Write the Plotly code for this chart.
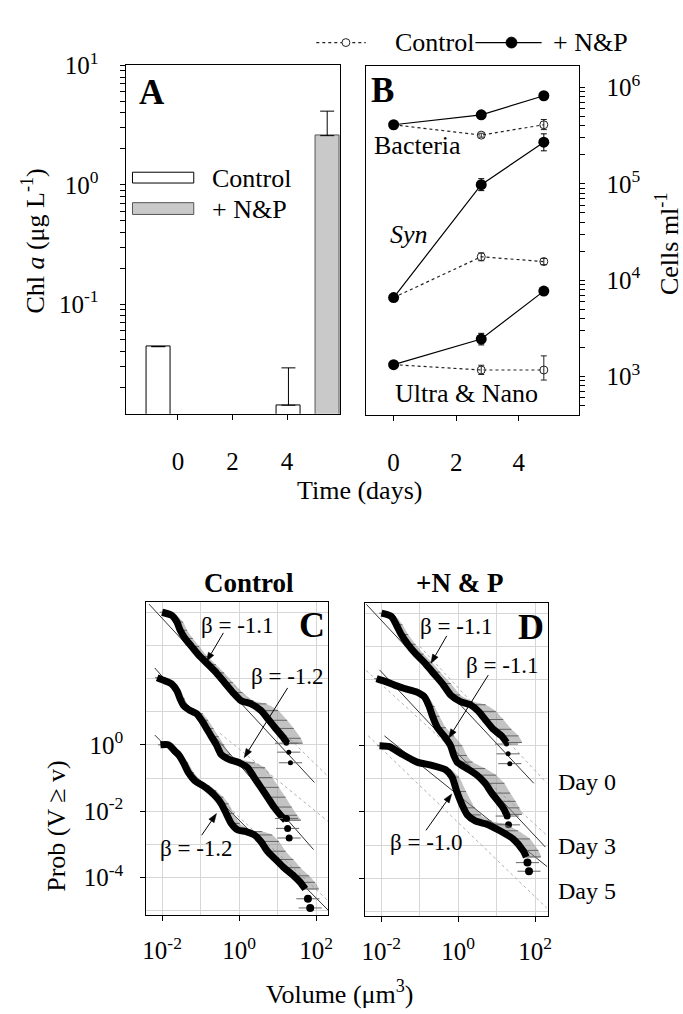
import math
import plotly.graph_objects as go

W, H = 683, 1014
SERIF = "Liberation Serif, Times New Roman, serif"


def fx(p):
    return p / W


def fy(p):
    return 1 - p / H


# ---------------- Panel A: chlorophyll a bars ----------------
chl_ctrl_pos = [-0.72, 4.05]
chl_ctrl = [0.044, 0.0142]
chl_ctrl_err = [0.0, 0.015]
chl_np_pos = [5.47]
chl_np = [2.58]
chl_np_err = [1.56]

# ---------------- Panel B: cell abundances ----------------
days_b = [0, 2.8, 4.8]
bact_np = [4.1e5, 5.2e5, 8.2e5]
bact_np_up = [0, 2.0e4, 6.0e4]
bact_np_dn = [0, 2.0e4, 4.0e4]
bact_ctrl = [4.1e5, 3.2e5, 4.1e5]
bact_ctrl_up = [0, 1.5e4, 5.5e4]
bact_ctrl_dn = [0, 1.5e4, 4.5e4]
syn_np = [6.6e3, 9.8e4, 2.7e5]
syn_np_up = [0, 1.5e4, 6.0e4]
syn_np_dn = [0, 1.3e4, 5.0e4]
syn_ctrl = [6.6e3, 1.75e4, 1.56e4]
syn_ctrl_up = [0, 1.7e3, 1.2e3]
syn_ctrl_dn = [0, 1.6e3, 1.1e3]
un_np = [1.33e3, 2.45e3, 7.7e3]
un_np_up = [0, 3.6e2, 3.0e2]
un_np_dn = [0, 3.2e2, 3.0e2]
un_ctrl = [1.33e3, 1.17e3, 1.17e3]
un_ctrl_up = [0, 1.4e2, 4.7e2]
un_ctrl_dn = [0, 1.2e2, 2.5e2]

# ---------------- Panels C & D: size spectra (log10 volume, log10 prob) ----------------
# Control
c0_lv = [-2.0, -1.744, -1.615, -1.531, -1.403, -1.231, -1.018, -0.803, -0.590, -0.377,
         -0.162, 0.051, 0.308, 0.564, 0.777, 0.949, 1.162, 1.249]
c0_lp = [4.0, 3.902, 3.704, 3.457, 3.209, 2.963, 2.667, 2.421, 2.172, 1.876,
         1.579, 1.333, 1.236, 1.037, 0.741, 0.495, 0.198, 0.050]
c0_hi = [0.05, 0.12, 0.16, 0.18, 0.20, 0.20, 0.20, 0.20, 0.20, 0.22,
         0.25, 0.32, 0.40, 0.45, 0.47, 0.47, 0.44, 0.40]
c0_tail_lv = [1.23, 1.29, 1.333]
c0_tail_lp = [0.05, -0.22, -0.54]

c3_lv = [-2.128, -1.915, -1.744, -1.615, -1.531, -1.444, -1.274, -1.103, -0.974, -0.846, -0.718,
         -0.590, -0.462, -0.249, 0.008, 0.223, 0.392, 0.564, 0.736, 0.905, 1.077, 1.205]
c3_lp = [2.024, 1.926, 1.828, 1.630, 1.384, 1.185, 1.037, 0.939, 0.741, 0.495, 0.246,
         0.0, -0.296, -0.444, -0.542, -0.690, -0.987, -1.283, -1.579, -1.876, -2.124, -2.272]
c3_hi = [0.04, 0.06, 0.08, 0.10, 0.12, 0.14, 0.15, 0.16, 0.17, 0.18, 0.19,
         0.20, 0.22, 0.30, 0.40, 0.45, 0.47, 0.47, 0.47, 0.46, 0.43, 0.40]
c3_tail_lv = [1.23, 1.26, 1.30]
c3_tail_lp = [-2.22, -2.52, -2.81]

c5_lv = [-2.044, -1.828, -1.659, -1.572, -1.444, -1.315, -1.146, -0.931, -0.762, -0.590, -0.462, -0.333,
         -0.205, -0.033, 0.179, 0.392, 0.564, 0.736, 0.949, 1.162, 1.418, 1.590, 1.718]
c5_lp = [0.0, 0.0, -0.199, -0.296, -0.542, -0.839, -1.087, -1.236, -1.384, -1.579, -1.778, -2.074,
         -2.370, -2.569, -2.616, -2.717, -2.913, -3.209, -3.458, -3.704, -3.950, -4.148, -4.347]
c5_hi = [0.04, 0.05, 0.08, 0.10, 0.12, 0.14, 0.15, 0.16, 0.17, 0.18, 0.19, 0.20,
         0.22, 0.32, 0.42, 0.47, 0.47, 0.47, 0.46, 0.43, 0.40, 0.38, 0.35]
c5_tail_lv = [1.787, 1.846]
c5_tail_lp = [-4.643, -4.92]

# +N & P
d0_lv = [-1.992, -1.736, -1.608, -1.479, -1.308, -1.095, -0.882, -0.667, -0.410,
         -0.197, 0.059, 0.315, 0.528, 0.700, 0.913, 1.128, 1.256]
d0_lp = [4.0, 3.902, 3.653, 3.357, 3.061, 2.764, 2.519, 2.222, 1.876,
         1.532, 1.333, 1.236, 1.037, 0.791, 0.495, 0.296, 0.098]
d0_hi = [0.05, 0.12, 0.16, 0.18, 0.20, 0.20, 0.20, 0.20, 0.22,
         0.25, 0.32, 0.40, 0.45, 0.47, 0.47, 0.44, 0.40]
d0_tail_lv = [1.256, 1.297, 1.341]
d0_tail_lp = [0.05, -0.246, -0.542]

d3_lv = [-2.12, -1.864, -1.651, -1.395, -1.095, -0.882, -0.754, -0.667, -0.538, -0.369,
         -0.197, -0.113, -0.026, 0.231, 0.487, 0.700, 0.872, 1.041, 1.169, 1.256]
d3_lp = [2.024, 1.926, 1.828, 1.727, 1.630, 1.481, 1.185, 0.889, 0.542, 0.296,
         0.0, -0.296, -0.495, -0.690, -0.889, -1.135, -1.431, -1.680, -1.876, -2.074]
d3_hi = [0.04, 0.05, 0.06, 0.07, 0.08, 0.10, 0.14, 0.18, 0.22, 0.26,
         0.30, 0.34, 0.40, 0.47, 0.50, 0.50, 0.48, 0.45, 0.42, 0.40]
d3_tail_lv = [1.272, 1.308]
d3_tail_lp = [-2.124, -2.39]

d5_lv = [-2.044, -1.787, -1.441, -1.069, -0.685, -0.326, -0.159, -0.036, 0.136, 0.238,
         0.444, 0.744, 1.085, 1.426, 1.682, 1.769]
d5_lp = [0.0, -0.030, -0.267, -0.495, -0.593, -0.726, -0.948, -1.384, -1.876, -2.089,
         -2.272, -2.370, -2.569, -2.815, -3.161, -3.357]
d5_hi = [0.04, 0.05, 0.07, 0.09, 0.11, 0.14, 0.18, 0.24, 0.30, 0.35,
         0.42, 0.47, 0.47, 0.44, 0.40, 0.38]
d5_tail_lv = [1.80, 1.84]
d5_tail_lp = [-3.53, -3.79]

# fitted power laws (solid) and reference slopes (dotted), log10 end points
c_fit_lv = [[-2.341, 1.956], [-2.19, 1.933], [-2.19, 2.315]]
c_fit_lp = [[4.246, -1.135], [2.32, -3.16], [0.296, -4.99]]
c_ref_lv = [[-0.8, 2.30], [-0.5, 2.30], [-0.5, 2.30]]
c_ref_lp = [[2.57, -0.94], [0.35, -2.30], [-1.63, -4.69]]
d_fit_lv = [[-2.385, 1.964], [-2.044, 2.265], [-1.915, 2.31]]
d_fit_lp = [[4.267, -1.135], [2.29, -3.06], [0.296, -3.65]]
d_ref_lv = [[-1.0, 2.30], [-2.39, 2.30], [-2.34, 2.30]]
d_ref_lp = [[3.0, -1.13], [2.27, -2.70], [0.30, -4.90]]

TAIL_ERR = 0.3      # horizontal spread of the last points, decades
BAND_LO = 0.06      # spread on the small-volume side, decades

fig = go.Figure()

# ---- A ----
fig.add_trace(go.Bar(
    x=chl_ctrl_pos, y=chl_ctrl, width=0.88, xaxis="x", yaxis="y", showlegend=False,
    marker=dict(color="white", line=dict(color="black", width=1)),
    error_y=dict(type="data", symmetric=False, array=chl_ctrl_err,
                 arrayminus=[0] * len(chl_ctrl), color="black", thickness=1, width=7)))
fig.add_trace(go.Bar(
    x=chl_np_pos, y=chl_np, width=0.88, xaxis="x", yaxis="y", showlegend=False,
    marker=dict(color="#c9c9c9", line=dict(color="#555555", width=1)),
    error_y=dict(type="data", symmetric=False, array=chl_np_err,
                 arrayminus=[0] * len(chl_np), color="black", thickness=1, width=7)))

# ---- B ----
groups = [
    (bact_ctrl, bact_ctrl_up, bact_ctrl_dn, bact_np, bact_np_up, bact_np_dn),
    (syn_ctrl, syn_ctrl_up, syn_ctrl_dn, syn_np, syn_np_up, syn_np_dn),
    (un_ctrl, un_ctrl_up, un_ctrl_dn, un_np, un_np_up, un_np_dn),
]
for ctrl, cu, cd, nutr, nu, nd in groups:
    fig.add_trace(go.Scatter(
        x=days_b, y=ctrl, mode="lines+markers", xaxis="x2", yaxis="y2", showlegend=False,
        line=dict(color="#222222", width=1.2, dash="dot"),
        marker=dict(symbol="circle-open", size=8, color="#222222", line=dict(width=1)),
        error_y=dict(type="data", symmetric=False, array=cu, arrayminus=cd,
                     color="#222222", thickness=1, width=3)))
    fig.add_trace(go.Scatter(
        x=days_b, y=nutr, mode="lines+markers", xaxis="x2", yaxis="y2", showlegend=False,
        line=dict(color="black", width=1.2),
        marker=dict(symbol="circle", size=11, color="black"),
        error_y=dict(type="data", symmetric=False, array=nu, arrayminus=nd,
                     color="black", thickness=1, width=3)))


# ---- C & D ----
def spectrum(xa, ya, lv, lp, hi, tail_lv, tail_lp, dot_size):
    xs = [10 ** v for v in lv]
    ys = [10 ** p for p in lp]
    band_x = [10 ** (v - BAND_LO) for v in lv] + [10 ** (v + h) for v, h in zip(lv[::-1], hi[::-1])]
    band_y = ys + ys[::-1]
    fig.add_trace(go.Scatter(
        x=band_x, y=band_y, fill="toself", fillcolor="rgba(135,135,135,0.5)",
        line=dict(width=0, shape="spline", smoothing=0.6), mode="lines",
        xaxis=xa, yaxis=ya, showlegend=False, hoverinfo="skip"))
    # hatching: horizontal spread of each size class
    fig.add_trace(go.Scatter(
        x=xs, y=ys, mode="markers", marker=dict(size=1, color="rgba(0,0,0,0)"),
        error_x=dict(type="data", symmetric=False,
                     array=[x * (10 ** h - 1) for x, h in zip(xs, hi)],
                     arrayminus=[x * (1 - 10 ** -BAND_LO) for x in xs],
                     color="#666666", thickness=1, width=0),
        xaxis=xa, yaxis=ya, showlegend=False, hoverinfo="skip"))
    fig.add_trace(go.Scatter(
        x=xs, y=ys, mode="lines", line=dict(color="black", width=7, shape="spline", smoothing=0.6),
        xaxis=xa, yaxis=ya, showlegend=False))
    tx = [10 ** v for v in tail_lv]
    ty = [10 ** p for p in tail_lp]
    fig.add_trace(go.Scatter(
        x=tx, y=ty, mode="markers", marker=dict(color="black", size=dot_size),
        error_x=dict(type="data", symmetric=False,
                     array=[x * (10 ** TAIL_ERR - 1) for x in tx],
                     arrayminus=[x * (1 - 10 ** -TAIL_ERR) for x in tx],
                     color="#666666", thickness=1, width=0),
        xaxis=xa, yaxis=ya, showlegend=False))


def fit_lines(xa, ya, fit_lv, fit_lp, ref_lv, ref_lp):
    for lv, lp in zip(ref_lv, ref_lp):
        fig.add_trace(go.Scatter(
            x=[10 ** v for v in lv], y=[10 ** p for p in lp], mode="lines",
            line=dict(color="#b0b0b0", width=1, dash="dot"), xaxis=xa, yaxis=ya, showlegend=False))
    for lv, lp in zip(fit_lv, fit_lp):
        fig.add_trace(go.Scatter(
            x=[10 ** v for v in lv], y=[10 ** p for p in lp], mode="lines",
            line=dict(color="#333333", width=1), xaxis=xa, yaxis=ya, showlegend=False))


fit_lines("x3", "y3", c_fit_lv, c_fit_lp, c_ref_lv, c_ref_lp)
spectrum("x3", "y3", c0_lv, c0_lp, c0_hi, c0_tail_lv, c0_tail_lp, 5)
spectrum("x3", "y3", c3_lv, c3_lp, c3_hi, c3_tail_lv, c3_tail_lp, 7)
spectrum("x3", "y3", c5_lv, c5_lp, c5_hi, c5_tail_lv, c5_tail_lp, 8)

fit_lines("x4", "y4", d_fit_lv, d_fit_lp, d_ref_lv, d_ref_lp)
spectrum("x4", "y4", d0_lv, d0_lp, d0_hi, d0_tail_lv, d0_tail_lp, 5)
spectrum("x4", "y4", d3_lv, d3_lp, d3_hi, d3_tail_lv, d3_tail_lp, 7)
spectrum("x4", "y4", d5_lv, d5_lp, d5_hi, d5_tail_lv, d5_tail_lp, 8)

# ---------------- axes ----------------
TICKFONT = dict(family=SERIF, size=25, color="black")
frame = dict(showline=True, mirror=True, linecolor="black", linewidth=1,
             zeroline=False, showgrid=False, ticks="outside", tickcolor="black",
             ticklen=5, tickfont=TICKFONT)


def sup(e):
    return "10<sup>%d</sup>" % e


def log_minor(lo, hi):
    return [m * 10 ** e for e in range(math.floor(lo), math.ceil(hi) + 1)
            for m in range(2, 10) if lo <= math.log10(m * 10 ** e) <= hi]


minor_ticks = dict(ticks="outside", ticklen=5, tickcolor="black")
grid = dict(showgrid=True, gridcolor="#d6d6d6", gridwidth=1)

fig.update_layout(
    width=W, height=H, margin=dict(l=0, r=0, t=0, b=0),
    paper_bgcolor="white", plot_bgcolor="white", bargap=0,
    font=dict(family=SERIF, size=25, color="black"),
    xaxis=dict(frame, domain=[fx(123), fx(340)], range=[-1.92, 5.94], anchor="y",
               tickvals=[0, 2, 4], ticklabelstandoff=20),
    yaxis=dict(frame, domain=[fy(403), fy(48.3)], type="log", range=[-1.92, 1.0], anchor="x",
               tickvals=[0.1, 1, 10], ticktext=[sup(-1), sup(0), sup(1)], ticklabelstandoff=16,
               minor=dict(minor_ticks, tickvals=log_minor(-1.92, 1.0))),
    xaxis2=dict(frame, domain=[fx(366.7), fx(582.3)], range=[-0.87, 5.94], anchor="y2",
                tickvals=[0, 2, 4], ticklabelstandoff=20),
    yaxis2=dict(frame, domain=[fy(404), fy(49.3)], type="log", range=[2.603, 6.218], anchor="x2",
                side="right", tickvals=[1e3, 1e4, 1e5, 1e6], ticktext=[sup(3), sup(4), sup(5), sup(6)],
                ticklabelstandoff=16, minor=dict(minor_ticks, tickvals=log_minor(2.603, 6.218))),
    xaxis3=dict(frame, **grid, domain=[fx(144), fx(328.3)], type="log", range=[-2.41, 2.32], anchor="y3",
                tickvals=[1e-2, 1, 1e2], ticktext=[sup(-2), sup(0), sup(2)], ticklabelstandoff=8,
                minor=dict(tickvals=[1e-1, 10], showgrid=True, gridcolor="#d6d6d6", ticks="")),
    yaxis3=dict(frame, **grid, domain=[fy(913.3), fy(595)], type="log", range=[-5.135, 4.296], anchor="x3",
                tickvals=[1, 1e-2, 1e-4], ticktext=[sup(0), sup(-2), sup(-4)], ticklabelstandoff=12,
                minor=dict(tickvals=[1e4, 1e3, 1e2, 10, 0.1, 1e-3, 1e-5], showgrid=True,
                           gridcolor="#d6d6d6", ticks="")),
    xaxis4=dict(frame, **grid, domain=[fx(365.7), fx(550.7)], type="log", range=[-2.41, 2.34], anchor="y4",
                tickvals=[1e-2, 1, 1e2], ticktext=[sup(-2), sup(0), sup(2)], ticklabelstandoff=8,
                minor=dict(tickvals=[1e-1, 10], showgrid=True, gridcolor="#d6d6d6", ticks="")),
    yaxis4=dict(frame, **grid, domain=[fy(914), fy(596)], type="log", range=[-5.135, 4.296], anchor="x4",
                tickvals=[1, 1e-2, 1e-4], showticklabels=False,
                minor=dict(tickvals=[1e4, 1e3, 1e2, 10, 0.1, 1e-3, 1e-5], showgrid=True,
                           gridcolor="#d6d6d6", ticks="")),
)

# ---------------- text ----------------
ann = []
shapes = []


def text(x, y, s, size=26, angle=0, anchor="center", bold=False, italic=False):
    if bold:
        s = "<b>" + s + "</b>"
    if italic:
        s = "<i>" + s + "</i>"
    ann.append(dict(x=fx(x), y=fy(y), xref="paper", yref="paper", text=s, showarrow=False,
                    textangle=angle, xanchor=anchor, yanchor="middle",
                    font=dict(family=SERIF, size=size, color="black")))


def arrow(hx, hy, tx, ty, head=9, half=3.2):
    # shaft plus a filled head drawn in pixel space
    d = math.hypot(hx - tx, hy - ty)
    ux, uy = (hx - tx) / d, (hy - ty) / d
    bx, by = hx - ux * head, hy - uy * head
    shapes.append(dict(type="line", xref="paper", yref="paper",
                       x0=fx(tx), y0=fy(ty), x1=fx(bx), y1=fy(by),
                       line=dict(color="black", width=1)))
    p1 = (bx - uy * half, by + ux * half)
    p2 = (bx + uy * half, by - ux * half)
    path = "M %f %f L %f %f L %f %f Z" % (fx(hx), fy(hy), fx(p1[0]), fy(p1[1]), fx(p2[0]), fy(p2[1]))
    shapes.append(dict(type="path", xref="paper", yref="paper", path=path,
                       fillcolor="black", line=dict(color="black", width=0.5)))


text(150, 76, "A", size=35, bold=True)
text(383, 74, "B", size=35, bold=True)
text(312, 618, "C", size=36, bold=True)
text(533, 620, "D", size=36, bold=True)

text(30, 227, "Chl <i>a</i> (μg L<sup>-1</sup>)", angle=-90)
text(672, 230, "Cells ml<sup>-1</sup>", angle=-90)
text(360, 481, "Time (days)")
text(53, 822, "Prob (V ≥ v)", angle=-90)
text(340, 992, "Volume (μm<sup>3</sup>)")

text(208, 163, "Control", anchor="left")
text(208, 195, "+ N&amp;P", anchor="left")

text(418, 130, "Bacteria")
text(410, 220, "Syn", italic=True)
text(468, 382, "Ultra &amp; Nano")

text(394, 25, "Control", anchor="left")
text(553, 25, "+ N&amp;P", anchor="left")

text(248, 575, "Control", size=27, bold=True)
text(461, 575, "+N &amp; P", size=27, bold=True)

text(559, 778, "Day 0", size=24, anchor="left")
text(559, 843, "Day 3", size=24, anchor="left")
text(559, 889, "Day 5", size=24, anchor="left")

text(236, 618, "β = -1.1", size=23)
text(287, 670, "β = -1.2", size=23)
text(195, 846, "β = -1.2", size=23)
text(458, 619, "β = -1.1", size=23)
text(504, 659, "β = -1.1", size=23)
text(428, 839, "β = -1.0", size=23)

arrow(205, 655, 222, 626)
arrow(243, 753, 287, 682)
arrow(215, 810, 200, 832)
arrow(432, 657, 448, 629)
arrow(450, 733, 490, 669)
arrow(453, 790, 427, 827)

fig.update_layout(annotations=ann)

# ---------------- legend keys ----------------
# bar keys in panel A
shapes.append(dict(type="rect", xref="paper", yref="paper", x0=fx(130), x1=fx(192), y0=fy(168), y1=fy(157),
                   line=dict(color="black", width=1), fillcolor="white"))
shapes.append(dict(type="rect", xref="paper", yref="paper", x0=fx(130), x1=fx(192), y0=fy(200), y1=fy(188),
                   line=dict(color="#555555", width=1), fillcolor="#c9c9c9"))
# line keys at the top
shapes.append(dict(type="line", xref="paper", yref="paper", x0=fx(316), x1=fx(366), y0=fy(25), y1=fy(25),
                   line=dict(color="#222222", width=1.2, dash="dot")))
shapes.append(dict(type="circle", xref="paper", yref="paper", x0=fx(342), x1=fx(350), y0=fy(29), y1=fy(21),
                   line=dict(color="#222222", width=1), fillcolor="white"))
shapes.append(dict(type="line", xref="paper", yref="paper", x0=fx(477), x1=fx(544), y0=fy(25), y1=fy(25),
                   line=dict(color="black", width=1.2)))
shapes.append(dict(type="circle", xref="paper", yref="paper", x0=fx(508), x1=fx(519), y0=fy(30.5), y1=fy(19.5),
                   line=dict(color="black", width=1), fillcolor="black"))
fig.update_layout(shapes=shapes)

fig.write_html("out.html")
